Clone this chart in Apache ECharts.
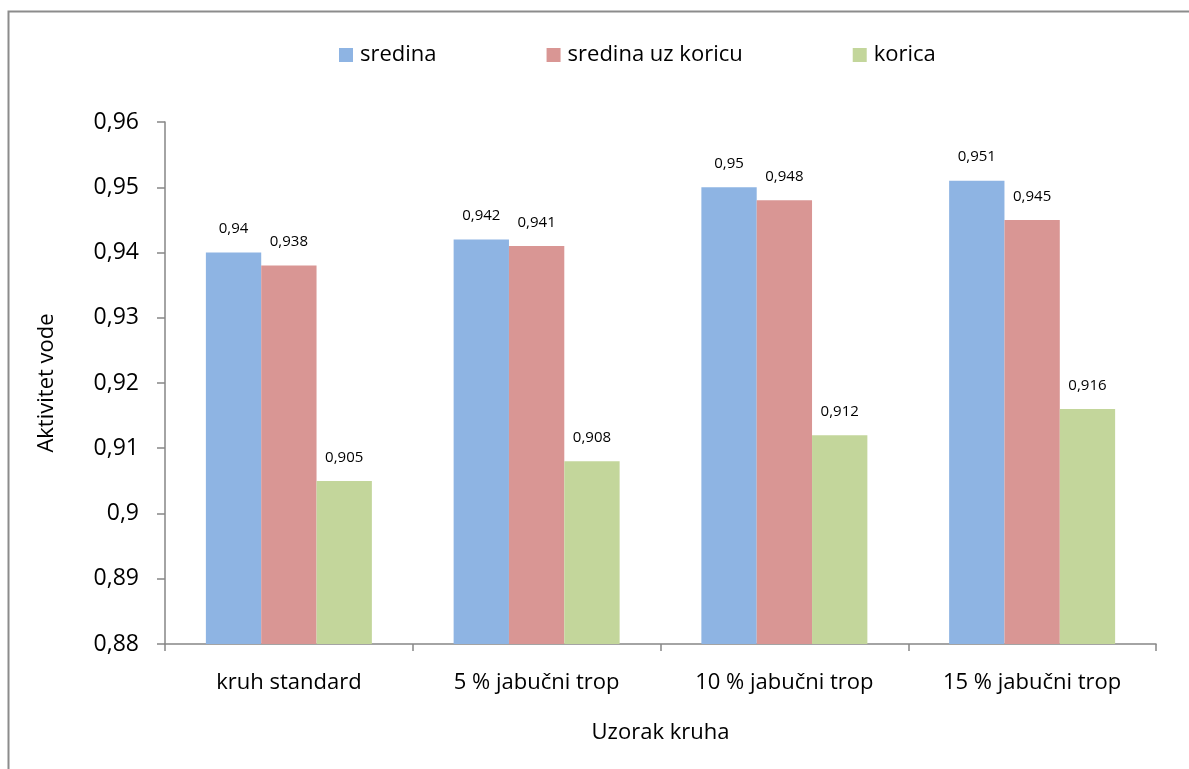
<!DOCTYPE html>
<html>
<head>
<meta charset="utf-8">
<script src="https://cdn.jsdelivr.net/npm/echarts@6/dist/echarts.min.js"></script>
<style>html,body{margin:0;padding:0;background:#fff;}#c{width:1189px;height:769px;}</style>
</head>
<body>
<div id="c"></div>
<script>
const categories = ['kruh standard', '5 % jabučni trop', '10 % jabučni trop', '15 % jabučni trop'];
const seriesNames = ['sredina', 'sredina uz koricu', 'korica'];
const sredina = [0.94, 0.942, 0.95, 0.951];
const sredinaUzKoricu = [0.938, 0.941, 0.948, 0.945];
const korica = [0.905, 0.908, 0.912, 0.916];
const colors = ['#8EB4E3', '#D99694', '#C3D69B'];
const FONT = '"Open Sans", "Noto Sans", sans-serif';

const fmt = v => String(v).replace('.', ',');
const chart = echarts.init(document.getElementById('c'));
const mk = (name, data, color) => ({
  name, type: 'bar', data, barGap: '0%', barCategoryGap: '33%',
  itemStyle: { color },
  label: { show: true, position: 'top', distance: 16, color: '#000', fontSize: 15, fontFamily: FONT,
           formatter: p => fmt(p.value) }
});
chart.setOption({
  animation: false,
  backgroundColor: '#fff',
  color: colors,
  graphic: [{ type: 'rect', shape: { x: 8.5, y: 11.5, width: 1300, height: 900 },
              style: { fill: 'none', stroke: '#8c8c8c', lineWidth: 2 } }],
  legend: {
    top: 43, left: 339, padding: 0, itemWidth: 14, itemHeight: 14, itemGap: 110,
    icon: 'rect',
    textStyle: { fontSize: 22, lineHeight: 24, fontFamily: FONT, color: '#000', padding: [0, 0, 0, 2] },
    data: seriesNames
  },
  grid: { left: 165, right: 33, top: 122, bottom: 125, containLabel: false },
  xAxis: {
    type: 'category', data: categories,
    name: 'Uzorak kruha', nameLocation: 'middle', nameGap: 78,
    nameTextStyle: { fontSize: 22, fontFamily: FONT, color: '#000' },
    axisLine: { lineStyle: { color: '#868686', width: 1.5 } },
    axisTick: { show: true, length: 7, alignWithLabel: false, lineStyle: { color: '#868686', width: 1.5 } },
    axisLabel: { fontSize: 22, fontFamily: FONT, color: '#000', margin: 28 }
  },
  yAxis: {
    type: 'value', min: 0.88, max: 0.96, interval: 0.01,
    name: 'Aktivitet vode', nameLocation: 'middle', nameGap: 107, nameRotate: 90,
    nameTextStyle: { fontSize: 22, fontFamily: FONT, color: '#000' },
    splitLine: { show: false },
    axisLine: { show: true, lineStyle: { color: '#868686', width: 1.5 } },
    axisTick: { show: true, length: 8, lineStyle: { color: '#868686', width: 1.5 } },
    axisLabel: { fontSize: 23, fontFamily: FONT, color: '#000', margin: 26,
                 formatter: v => fmt(+v.toFixed(2)) }
  },
  series: [mk(seriesNames[0], sredina, colors[0]), mk(seriesNames[1], sredinaUzKoricu, colors[1]), mk(seriesNames[2], korica, colors[2])]
});
</script>
</body>
</html>
